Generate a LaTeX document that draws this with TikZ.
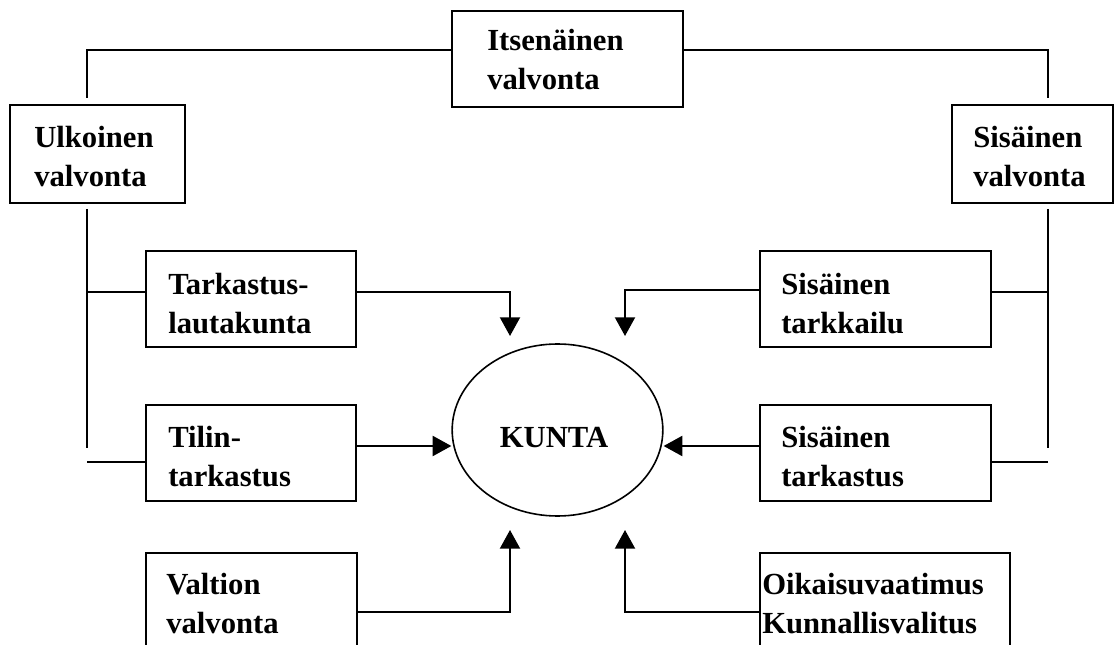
\documentclass[tikz,border=0pt]{standalone}
\usepackage{fontspec}
\setmainfont{Liberation Serif}
\usetikzlibrary{arrows.meta,shapes.geometric}

\tikzset{
  box/.style={draw, line width=1.5pt, rectangle, inner sep=0pt, anchor=north west},
  lbl/.style={anchor=base west, inner sep=0pt, align=left,
    font=\fontsize{23}{29.25}\selectfont\bfseries},
  wire/.style={line width=1.5pt},
  feed/.style={line width=1.5pt, -{Triangle[width=15pt,length=14pt]}},
  hub/.style={draw, ellipse, line width=1.2pt, minimum width=158pt, minimum height=129pt, inner sep=0pt},
}

\begin{document}
\begin{tikzpicture}[x=0.75pt, y=-0.75pt]
  \useasboundingbox (0,0) rectangle (1115,645);
  \clip (0,0) rectangle (1115,645);

  % boxes (pixel grid, y downwards)
  \node[box, minimum width=173pt, minimum height=72pt] (itse) at (451,10) {};
  \node[box, minimum width=131pt, minimum height=73.5pt] (ulk) at (9,104) {};
  \node[box, minimum width=121pt, minimum height=73.5pt] (sis) at (951,104) {};
  \node[box, minimum width=157.5pt, minimum height=72pt] (tark) at (145,250) {};
  \node[box, minimum width=157.5pt, minimum height=72pt] (tilin) at (145,404) {};
  \node[box, minimum width=158.25pt, minimum height=75pt] (valt) at (145,552) {};
  \node[box, minimum width=173.25pt, minimum height=72pt] (stark) at (759,250) {};
  \node[box, minimum width=173.25pt, minimum height=72pt] (stast) at (759,404) {};
  \node[box, minimum width=187.5pt, minimum height=75pt] (oik) at (759,552) {};

  \node[hub] (kunta) at (557.5,430) {};

  % texts (positioned by the baseline of their last line)
  \node[lbl] (tItse) at (487,90) {Itsenäinen\\valvonta};
  \node[lbl] (tUlk) at (34,187) {Ulkoinen\\valvonta};
  \node[lbl] (tSis) at (973,187) {Sisäinen\\valvonta};
  \node[lbl] (tTark) at (168,334) {Tarkastus-\\lautakunta};
  \node[lbl] (tTilin) at (168,487) {Tilin-\\tarkastus};
  \node[lbl] (tValt) at (166,633) {Valtion\\valvonta};
  \node[lbl] (tStark) at (781,334) {Sisäinen\\tarkkailu};
  \node[lbl] (tStast) at (781,487) {Sisäinen\\tarkastus};
  \node[lbl] (tOik) at (762,633) {Oikaisuvaatimus\\Kunnallisvalitus};
  \node[anchor=base, inner sep=0pt, font=\fontsize{23}{29.25}\selectfont\bfseries] (tKunta) at (554,448) {KUNTA};

  % junction points of the wiring
  \coordinate (lTop) at (87,50);
  \coordinate (lEnd) at (87,98);
  \coordinate (lStart) at (87,209);
  \coordinate (lLow) at (87,448);
  \coordinate (lA) at (87,292);
  \coordinate (lB) at (87,462);
  \coordinate (rTop) at (1048,50);
  \coordinate (rEnd) at (1048,98);
  \coordinate (rStart) at (1048,209);
  \coordinate (rLow) at (1048,448);
  \coordinate (rA) at (1048,292);
  \coordinate (rB) at (1048,462);
  \coordinate (kTL) at (510,336);
  \coordinate (kTR) at (625,336);
  \coordinate (kBL) at (510,530);
  \coordinate (kBR) at (625,530);

  % upper wiring
  \draw[wire] (itse.west |- lTop) -- (lTop) -- (lEnd);
  \draw[wire] (itse.east |- rTop) -- (rTop) -- (rEnd);
  \draw[wire] (lStart) -- (lLow);
  \draw[wire] (rStart) -- (rLow);
  \draw[wire] (lA) -- (tark.west |- lA);
  \draw[wire] (lB) -- (tilin.west |- lB);
  \draw[wire] (rA) -- (stark.east |- rA);
  \draw[wire] (rB) -- (stast.east |- rB);

  % arrows into KUNTA
  \draw[feed] (tark.east |- 0,292) -| (kTL);
  \draw[feed] (stark.west |- 0,290) -| (kTR);
  \draw[feed] (valt.east |- 0,612) -| (kBL);
  \draw[feed] (oik.west |- 0,612) -| (kBR);
  \draw[feed] (tilin.east |- 0,446) -- (kunta.west |- 0,446);
  \draw[feed] (stast.west |- 0,446) -- (kunta.east |- 0,446);
\end{tikzpicture}
\end{document}
